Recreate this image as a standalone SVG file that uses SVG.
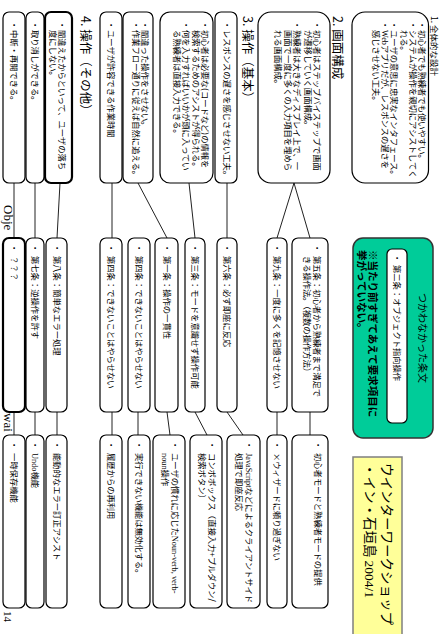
<svg xmlns="http://www.w3.org/2000/svg" width="440" height="634" viewBox="0 0 440 634">
<style>
.b{fill:#fff;stroke:#000;stroke-width:1.2}
.bt{fill:#fff;stroke:#000;stroke-width:2.2}
text{font-family:"Noto Sans CJK JP","Noto Sans",sans-serif;font-size:8.3px;fill:#000}
.h{font-size:12.5px}
.s{font-family:"Liberation Serif",serif}
.c line{stroke:#222;stroke-width:1}
</style>
<rect width="440" height="634" fill="#fff"/>
<g transform="translate(440,0) rotate(90)">
<text class="h" x="16" y="9.4" style="font-size:8.5px">1. 全体的な設計</text>
<text class="s" x="205" y="436" style="font-size:13px">Obje</text>
<text class="s" x="413" y="436" style="font-size:13px">wai</text>
<text class="s" x="611" y="436" style="font-size:11px">14</text>

<g class="c">
<line x1="183" y1="146" x2="238" y2="130"/>
<line x1="183" y1="146" x2="238" y2="163"/>
<line x1="183" y1="213" x2="238" y2="213"/>
<line x1="183" y1="251" x2="238" y2="245"/>
<line x1="183" y1="302" x2="238" y2="273"/>
<line x1="183" y1="328" x2="238" y2="328"/>
<line x1="183" y1="380" x2="238" y2="383"/>
<line x1="183" y1="405" x2="238" y2="405"/>
<line x1="183" y1="426" x2="238" y2="426"/>
<line x1="412" y1="426" x2="435" y2="426"/>
<line x1="412" y1="405" x2="435" y2="405"/>
<line x1="412" y1="383" x2="435" y2="383"/>
<line x1="412" y1="328" x2="435" y2="328"/>
<line x1="412" y1="302" x2="435" y2="302"/>
<line x1="412" y1="273" x2="435" y2="270"/>
<line x1="412" y1="245" x2="435" y2="233"/>
<line x1="412" y1="213" x2="435" y2="197"/>
<line x1="412" y1="163" x2="435" y2="163"/>
<line x1="412" y1="130" x2="435" y2="130"/>
</g>

<g id="goal1">
<rect class="b" x="12" y="11.5" width="171" height="76.5" rx="13"/>
<text x="21" y="21.5">・<tspan x="30">初心者でも熟練者でも使いやすい。</tspan></text>
<text x="21" y="30.5">・<tspan x="30">システムが操作を親切にアシストしてく</tspan></text>
<text x="30" y="39.5">れる。</text>
<text x="21" y="49">・<tspan x="30">ユーザの意思に忠実なインタフェース。</tspan></text>
<text x="21" y="58.5">・<tspan x="30"><tspan class="s">Web</tspan>アプリだが、レスポンスの遅さを</tspan></text>
<text x="30" y="67.5">感じさせない工夫。</text>
</g>
<text class="h" x="16" y="107.5">2. 画面構成</text>
<g id="goal2">
<rect class="b" x="12" y="110" width="171" height="72" rx="13"/>
<text x="21" y="126">・<tspan x="30">初心者はステップバイステップで画面</tspan></text>
<text x="30" y="135.5">が遷移していく画面構成。</text>
<text x="21" y="146">・<tspan x="30">熟練者は大きなディスプレイ上で、一</tspan></text>
<text x="30" y="155.5">画面で一度に多くの入力項目を埋めら</text>
<text x="30" y="165">れる画面構成。</text>
</g>
<text class="h" x="16" y="197.5">3. 操作（基本）</text>
<g id="goal3">
<rect class="b" x="12" y="203" width="171" height="22" rx="6"/>
<text x="21" y="216.5">・<tspan x="30">レスポンスの遅さを感じさせない工夫。</tspan></text>
</g>
<g id="goal4">
<rect class="b" x="12" y="227" width="171" height="53" rx="10"/>
<text x="21" y="238">・<tspan x="30">初心者は必要な(コードなど)の情報を</tspan></text>
<text x="30" y="247.5">検索するためのアシストが得られる。</text>
<text x="21" y="257">・<tspan x="30">何を入力すればいいかが頭に入ってい</tspan></text>
<text x="30" y="266.5">る熟練者は直接入力できる。</text>
</g>
<g id="goal5">
<rect class="b" x="12" y="287" width="171" height="30" rx="6"/>
<text x="21" y="298">・<tspan x="30">間違った操作をさせない。</tspan></text>
<text x="21" y="307.5">・<tspan x="30">作業フロー通りに従えば自然に追える。</tspan></text>
</g>
<g id="goal6">
<rect class="b" x="12" y="318" width="171" height="22" rx="6"/>
<text x="21" y="332">・<tspan x="30">ユーザが許容できる作業時間</tspan></text>
</g>
<text class="h" x="16" y="359.5">4. 操作（その他）</text>
<g id="goal7">
<rect class="bt" x="12" y="368" width="171" height="27" rx="6"/>
<text x="21" y="381">・<tspan x="30">間違えたからといって、ユーザの落ち</tspan></text>
<text x="30" y="390.5">度にしない。</text>
</g>
<g id="goal8">
<rect class="b" x="12" y="396" width="171" height="18" rx="6"/>
<text x="21" y="408">・<tspan x="30">取り消しができる。</tspan></text>
</g>
<g id="goal9">
<rect class="b" x="12" y="415" width="171" height="22" rx="6"/>
<text x="21" y="429">・<tspan x="30">中断・再開できる。</tspan></text>
</g>

<g id="rule0">
<rect class="bt" x="238" y="415" width="174" height="22" rx="6"/>
<text x="244" y="429">・<tspan x="256">？？？</tspan></text>
</g>
<g id="rule7">
<rect class="b" x="238" y="396" width="174" height="18" rx="6"/>
<text x="244" y="408">・<tspan x="256">第七条：逆操作を許す</tspan></text>
</g>
<g id="rule8">
<rect class="b" x="238" y="373" width="174" height="21" rx="6"/>
<text x="244" y="386.5">・<tspan x="256">第八条：簡単なエラー処理</tspan></text>
</g>
<g id="rule4a">
<rect class="b" x="238" y="318" width="174" height="22" rx="6"/>
<text x="244" y="332">・<tspan x="256">第四条：できないことはやらせない</tspan></text>
</g>
<g id="rule4b">
<rect class="b" x="238" y="290" width="174" height="22" rx="6"/>
<text x="244" y="304">・<tspan x="256">第四条：できないことはやらせない</tspan></text>
</g>
<g id="rule1">
<rect class="b" x="238" y="262" width="174" height="23" rx="6"/>
<text x="244" y="276.5">・<tspan x="256">第一条：操作の一貫性</tspan></text>
</g>
<g id="rule3">
<rect class="b" x="238" y="235" width="174" height="20" rx="6"/>
<text x="244" y="248">・<tspan x="256">第三条：モードを意識せず操作可能</tspan></text>
</g>
<g id="rule6">
<rect class="b" x="238" y="203" width="174" height="20" rx="6"/>
<text x="244" y="216">・<tspan x="256">第六条：必ず即座に反応</tspan></text>
</g>
<g id="rule9">
<rect class="b" x="238" y="153" width="174" height="20" rx="6"/>
<text x="244" y="166">・<tspan x="256">第九条：一度に多くを記憶させない</tspan></text>
</g>
<g id="rule5">
<rect class="b" x="238" y="112" width="174" height="36" rx="6"/>
<text x="244" y="126">・<tspan x="256">第五条：初心者から熟練者まで満足で</tspan></text>
<text x="256" y="136">きる操作法。（複数の操作方法）</text>
</g>

<g id="f1">
<rect class="b" x="435" y="415" width="173" height="22" rx="6"/>
<text x="441" y="429">・<tspan x="453">一時保存機能</tspan></text>
</g>
<g id="f2">
<rect class="b" x="435" y="396" width="173" height="18" rx="6"/>
<text x="441" y="408">・<tspan x="453"><tspan class="s">Undo</tspan>機能</tspan></text>
</g>
<g id="f3">
<rect class="b" x="435" y="373" width="173" height="21" rx="6"/>
<text x="441" y="386.5">・<tspan x="453">能動的なエラー訂正アシスト</tspan></text>
</g>
<g id="f4">
<rect class="b" x="435" y="318" width="173" height="22" rx="6"/>
<text x="441" y="332">・<tspan x="453">履歴からの再利用</tspan></text>
</g>
<g id="f5">
<rect class="b" x="435" y="290" width="173" height="22" rx="6"/>
<text x="441" y="304">・<tspan x="453">実行できない機能は無効化する。</tspan></text>
</g>
<g id="f6">
<rect class="b" x="435" y="255" width="173" height="32" rx="6"/>
<text x="441" y="268">・<tspan x="453">ユーザの慣れに応じた<tspan class="s">Noun-verb, verb-</tspan></tspan></text>
<text x="453" y="278" class="s">noun<tspan style="font-family:'Noto Sans CJK JP',sans-serif">操作</tspan></text>
</g>
<g id="f7">
<rect class="b" x="435" y="218" width="173" height="32" rx="6"/>
<text x="441" y="231">・<tspan x="453">コンボボックス（直接入力+プルダウン/</tspan></text>
<text x="453" y="241.5">検索ボタン）</text>
</g>
<g id="f8">
<rect class="b" x="435" y="180" width="173" height="33" rx="6"/>
<text x="441" y="194">・<tspan x="453"><tspan class="s">JavaScript</tspan>などによるクライアントサイド</tspan></text>
<text x="453" y="204.5">処理で即座反応</text>
</g>
<g id="f9">
<rect class="b" x="435" y="153" width="173" height="20" rx="6"/>
<text x="441" y="166">・<tspan x="453">×ウィザードに頼り過ぎない</tspan></text>
</g>
<g id="f10">
<rect class="b" x="435" y="112" width="173" height="36" rx="6"/>
<text x="441" y="125.5">・<tspan x="453">初心者モードと熟練者モードの提供</tspan></text>
</g>

<g id="unused">
<rect x="238" y="7" width="200" height="80" rx="10" fill="#00CC99" stroke="#333" stroke-width="1.5"/>
<text x="338" y="21" text-anchor="middle" style="font-size:10px">つかわなかった条文</text>
<rect class="b" x="249" y="33" width="174" height="20" rx="5"/>
<text x="254" y="46">・<tspan x="265">第二条：オブジェクト指向操作</tspan></text>
<text x="250" y="71" style="font-size:10.5px;font-weight:bold">※当たり前すぎてあえて要求項目に</text>
<text x="250" y="82" style="font-size:10.5px;font-weight:bold">挙がっていない。</text>
</g>

<g id="workshop">
<rect x="457" y="38" width="200" height="49" fill="#FFFF99" stroke="#7f7f7f" stroke-width="1.5"/>
<text x="463" y="58" style="font-size:13.5px">ウインターワークショップ</text>
<text x="463" y="75" style="font-size:13.5px">・イン・石垣島 <tspan class="s">2004/1</tspan></text>
</g>
</g>
</svg>
